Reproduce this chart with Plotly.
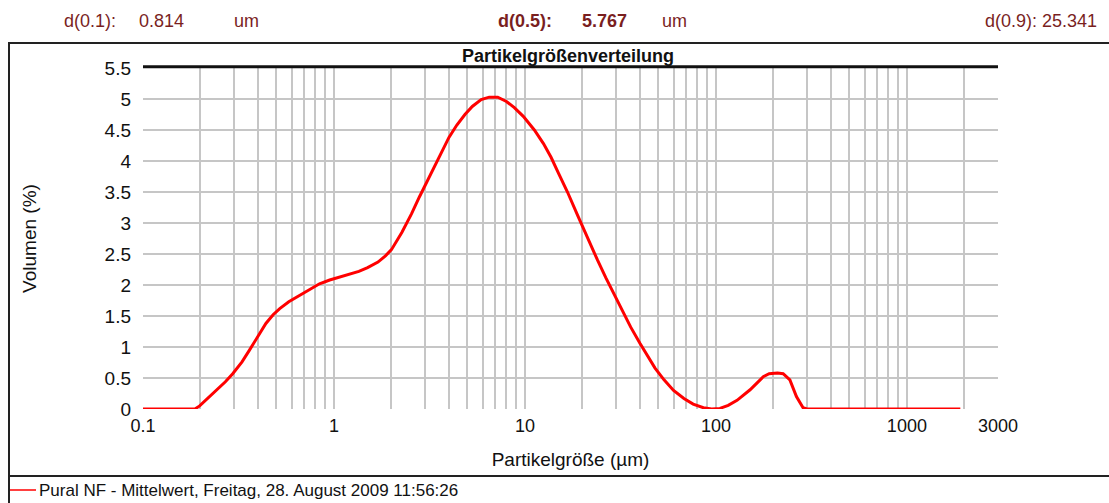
import numpy as np
import plotly.graph_objects as go

# Particle size (µm) and volume density (%) of the averaged measurement
size_um = [0.1, 0.12, 0.15, 0.187, 0.198, 0.22, 0.242, 0.27, 0.295, 0.33, 0.361,
           0.40, 0.44, 0.48, 0.52, 0.58, 0.66, 0.75, 0.84, 0.95, 1.06, 1.2, 1.35,
           1.5, 1.7, 1.86, 2.0, 2.27, 2.55, 2.8, 3.1, 3.4, 3.7, 4.0, 4.4, 4.85,
           5.3, 5.9, 6.5, 7.2, 8.0, 8.8, 9.8, 11.2, 12.5, 13.7, 15.0, 16.7, 18.9,
           21.5, 24.0, 26.5, 29.3, 32.5, 35.8, 40.0, 43.7, 48.0, 53.5, 60.0, 68.0,
           76.0, 86.0, 95.0, 105.0, 116.0, 129.0, 151.0, 177.0, 190.0, 210.0,
           225.0, 244.0, 264.0, 286.0, 300.0, 400.0, 600.0, 1000.0, 1400.0, 1905.0]
volume_pct = [0, 0, 0, 0, 0.05, 0.18, 0.31, 0.44, 0.57, 0.76, 0.95,
              1.18, 1.38, 1.52, 1.62, 1.73, 1.83, 1.93, 2.02, 2.08, 2.12, 2.17, 2.22,
              2.28, 2.37, 2.47, 2.57, 2.85, 3.15, 3.42, 3.70, 3.95, 4.18, 4.38, 4.58, 4.75,
              4.88, 4.99, 5.03, 5.03, 4.96, 4.86, 4.72, 4.50, 4.28, 4.06, 3.80, 3.50, 3.12,
              2.72, 2.40, 2.12, 1.86, 1.58, 1.32, 1.06, 0.86, 0.66, 0.47, 0.30, 0.17,
              0.08, 0.02, 0.0, 0.01, 0.06, 0.14, 0.31, 0.52, 0.57, 0.58,
              0.57, 0.47, 0.20, 0.02, 0, 0, 0, 0, 0, 0]

series_name = "Pural NF - Mittelwert, Freitag, 28. August 2009 11:56:26"
chart_title = "Partikelgrößenverteilung"
x_title = "Partikelgröße (µm)"
y_title = "Volumen (%)"

x_label_vals = [0.1, 1, 10, 100, 1000, 3000]
x_label_text = ["0.1", "1", "10", "100", "1000", "3000"]
y_tick_vals = [0, 0.5, 1, 1.5, 2, 2.5, 3, 3.5, 4, 4.5, 5, 5.5]
y_tick_text = ["0", "0.5", "1", "1.5", "2", "2.5", "3", "3.5", "4", "4.5", "5", "5.5"]

d_labels = [("d(0.1):", "0.814", "um"), ("d(0.5):", "5.767", "um"), ("d(0.9):", "25.341", "")]

# log grid: 1..9 per decade from 0.1 to 1000, plus 2000 and 3000
x_grid = [m * 10.0 ** e for e in range(-1, 3) for m in range(1, 10)] + [1000, 2000, 3000]
label_map = {round(v, 6): t for v, t in zip(x_label_vals, x_label_text)}
x_grid_text = [label_map.get(round(v, 6), "") for v in x_grid]

FONT = "Liberation Sans, Arial, sans-serif"
DARKRED = "#7a1f1f"
INK = "#111111"

fig = go.Figure()
fig.add_trace(go.Scatter(x=size_um, y=volume_pct, mode="lines", name=series_name,
                         line=dict(color="#ff0000", width=3), showlegend=False))

fig.update_layout(
    width=1109, height=503,
    margin=dict(l=143, r=111, t=68, b=94),
    paper_bgcolor="white", plot_bgcolor="white",
    font=dict(family=FONT, color=INK),
    xaxis=dict(type="log", range=[np.log10(0.1), np.log10(3000)],
               tickvals=x_grid, ticktext=x_grid_text, ticks="",
               showgrid=True, gridcolor="#c6c6c6", gridwidth=2,
               zeroline=False, showline=False,
               ticklabelstandoff=4,
               tickfont=dict(size=18, family=FONT, color=INK),
               title=dict(text=x_title, font=dict(size=19, family=FONT, color=INK),
                          standoff=17)),
    yaxis=dict(range=[0, 5.5], tickvals=y_tick_vals, ticktext=y_tick_text, ticks="",
               showgrid=True, gridcolor="#c6c6c6", gridwidth=2,
               zeroline=False, showline=False,
               tickfont=dict(size=19, family=FONT, color=INK),
               ticklabelstandoff=11,
               title=dict(text=y_title, font=dict(size=19, family=FONT, color=INK),
                          standoff=62)),
    showlegend=False,
)

def px_x(p):
    return (p - 143) / 855

def px_y(p):
    return (409 - p) / 341

shapes = [
    # heavy border along the top of the plot
    dict(type="line", x0=0, x1=1, y0=1.004, y1=1.004, line=dict(color=INK, width=3)),
    # outer frame: top, left, legend separator
    dict(type="line", x0=px_x(8), x1=px_x(1109), y0=px_y(43), y1=px_y(43),
         line=dict(color="#222222", width=2)),
    dict(type="line", x0=px_x(9), x1=px_x(9), y0=px_y(503), y1=px_y(43),
         line=dict(color="#222222", width=2)),
    dict(type="line", x0=px_x(8), x1=px_x(1109), y0=px_y(476), y1=px_y(476),
         line=dict(color="#222222", width=2)),
    # legend key
    dict(type="line", x0=px_x(10), x1=px_x(36), y0=px_y(490), y1=px_y(490),
         line=dict(color="#ff0000", width=1.5)),
]
for s in shapes:
    s.update(xref="paper", yref="paper")
fig.update_layout(shapes=shapes)

HS = 18
ann = [
    dict(text=f"<b>{chart_title}</b>", x=px_x(568), y=px_y(56), font=dict(size=18, color=INK)),
    dict(text=series_name, x=px_x(37), y=px_y(490), xanchor="left",
         font=dict(size=17, color=INK)),
    dict(text=d_labels[0][0], x=px_x(62), y=px_y(21), xanchor="left", font=dict(size=HS, color=DARKRED)),
    dict(text=d_labels[0][1], x=px_x(137), y=px_y(21), xanchor="left", font=dict(size=HS, color=DARKRED)),
    dict(text=d_labels[0][2], x=px_x(232), y=px_y(21), xanchor="left", font=dict(size=HS, color=DARKRED)),
    dict(text=f"<b>{d_labels[1][0]}</b>", x=px_x(496), y=px_y(21), xanchor="left", font=dict(size=HS, color=DARKRED)),
    dict(text=f"<b>{d_labels[1][1]}</b>", x=px_x(580), y=px_y(21), xanchor="left", font=dict(size=HS, color=DARKRED)),
    dict(text=d_labels[1][2], x=px_x(660), y=px_y(21), xanchor="left", font=dict(size=HS, color=DARKRED)),
    dict(text=f"{d_labels[2][0]} {d_labels[2][1]}", x=px_x(1099), y=px_y(21), xanchor="right",
         font=dict(size=HS, color=DARKRED)),
]
for a in ann:
    a.update(xref="paper", yref="paper", showarrow=False, yanchor="middle")
    a.setdefault("xanchor", "center")
    a["font"]["family"] = FONT
fig.update_layout(annotations=ann)

fig.write_html("out.html")
